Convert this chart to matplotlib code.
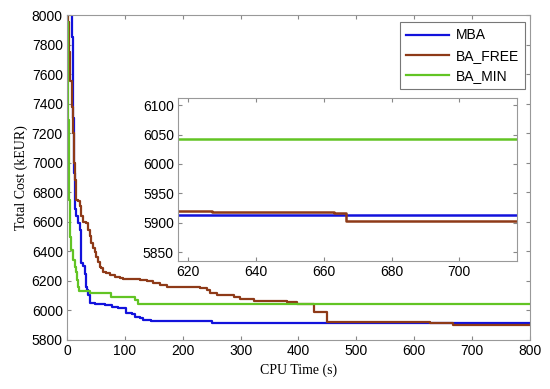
import matplotlib
matplotlib.use("Agg")
import matplotlib.pyplot as plt

# ---- data ----
mba_t = [0, 9, 11, 12.7, 13.8, 15, 19, 22, 25, 28, 30.6, 33, 35, 37, 40.5,
         48, 65.3, 77, 88.4, 101.7, 111.6, 117.3, 126, 131.8, 146, 250, 800]
mba_v = [9000, 7850, 7300, 6930, 6690, 6640, 6590, 6545, 6320, 6300, 6250, 6160, 6140, 6105, 6053,
         6042, 6037, 6026, 6015, 5985, 5976, 5958, 5947, 5936, 5927, 5913, 5913]

free_t = [0, 2, 4, 6, 8, 10, 12, 13.5, 15, 19, 22, 24.9, 27.7, 33.5, 36.4, 39.3, 42.2, 45, 48,
          50.9, 53.8, 56.6, 59.5, 62.4, 68.2, 74, 82.7, 91.3, 97, 126, 137.6, 149, 160.7, 172,
          195, 230, 241.7, 247, 259, 288, 299.6, 322.7, 380, 389, 397.5, 427, 449, 627, 663,
          666.5, 800]
free_v = [9000, 7950, 7750, 7550, 7380, 7200, 7000, 6880, 6749, 6738, 6704, 6636, 6602, 6591,
          6546, 6501, 6455, 6422, 6399, 6365, 6331, 6297, 6286, 6263, 6252, 6241, 6229, 6218,
          6211, 6207, 6196, 6184, 6173, 6162, 6157, 6150, 6139, 6116, 6105, 6093, 6075, 6066,
          6060, 6055, 6043, 5992, 5920, 5918, 5916, 5903, 5903]

min_t = [0, 0.8, 1.5, 2.3, 3, 4, 4.5, 7.5, 10.4, 13.3, 15, 17.3, 19, 20.8, 40, 75.7, 118, 122, 800]
min_v = [9000, 7950, 7600, 7290, 7000, 6750, 6500, 6410, 6342, 6297, 6260, 6207, 6162, 6130,
         6118, 6094, 6070, 6042, 6042]

series_names = ["MBA", "BA_FREE", "BA_MIN"]
series_t = [mba_t, free_t, min_t]
series_v = [mba_v, free_v, min_v]
colors = ["#1212dc", "#8e3a18", "#62c424"]

x_ticks = list(range(0, 801, 100))
y_ticks = list(range(5800, 8001, 200))
inset_x_ticks = [620, 640, 660, 680, 700]
inset_y_ticks = [5850, 5900, 5950, 6000, 6050, 6100]

# ---- figure ----
fig = plt.figure(figsize=(5.5, 3.89), dpi=100)
ax = fig.add_axes([0.1218, 0.126, 0.8418, 0.8354])

for name, t, v, c in zip(series_names, series_t, series_v, colors):
    ax.plot(t, v, drawstyle="steps-post", color=c, lw=1.6, label=name)

ax.set_xlim(0, 800)
ax.set_ylim(5800, 8000)
ax.set_xticks(x_ticks)
ax.set_yticks(y_ticks)

for lab in ax.get_xticklabels() + ax.get_yticklabels():
    lab.set_fontfamily("Liberation Sans")
    lab.set_fontsize(10)
ax.tick_params(direction="in", top=True, right=True, length=3, color="#888888", pad=3)
for s in ax.spines.values():
    s.set_color("#999999")
    s.set_linewidth(0.8)

ax.set_xlabel("CPU Time (s)", family="Liberation Serif", fontsize=10, labelpad=4)
ax.set_ylabel("Total Cost (kEUR)", family="Liberation Serif", fontsize=10, labelpad=3)

leg = ax.legend(loc="upper right", bbox_to_anchor=(0.989, 0.978), borderaxespad=0,
                frameon=True, fancybox=False, edgecolor="#555555", handlelength=3.1,
                prop={"family": "Liberation Sans", "size": 10},
                borderpad=0.45, labelspacing=0.44, handletextpad=0.45)
leg.get_frame().set_linewidth(0.8)

# ---- inset ----
ax2 = fig.add_axes([0.3236, 0.329, 0.6164, 0.419])
for t, v, c in zip(series_t, series_v, colors):
    ax2.plot(t, v, drawstyle="steps-post", color=c, lw=1.8)
ax2.set_xlim(617, 717)
ax2.set_ylim(5835, 6112)
ax2.set_xticks(inset_x_ticks)
ax2.set_yticks(inset_y_ticks)
for lab in ax2.get_xticklabels() + ax2.get_yticklabels():
    lab.set_fontfamily("Liberation Sans")
    lab.set_fontsize(10)
ax2.tick_params(direction="in", top=True, right=True, length=3, color="#888888", pad=3)
for s in ax2.spines.values():
    s.set_color("#999999")
    s.set_linewidth(0.8)

fig.savefig("out.png", dpi=100)
